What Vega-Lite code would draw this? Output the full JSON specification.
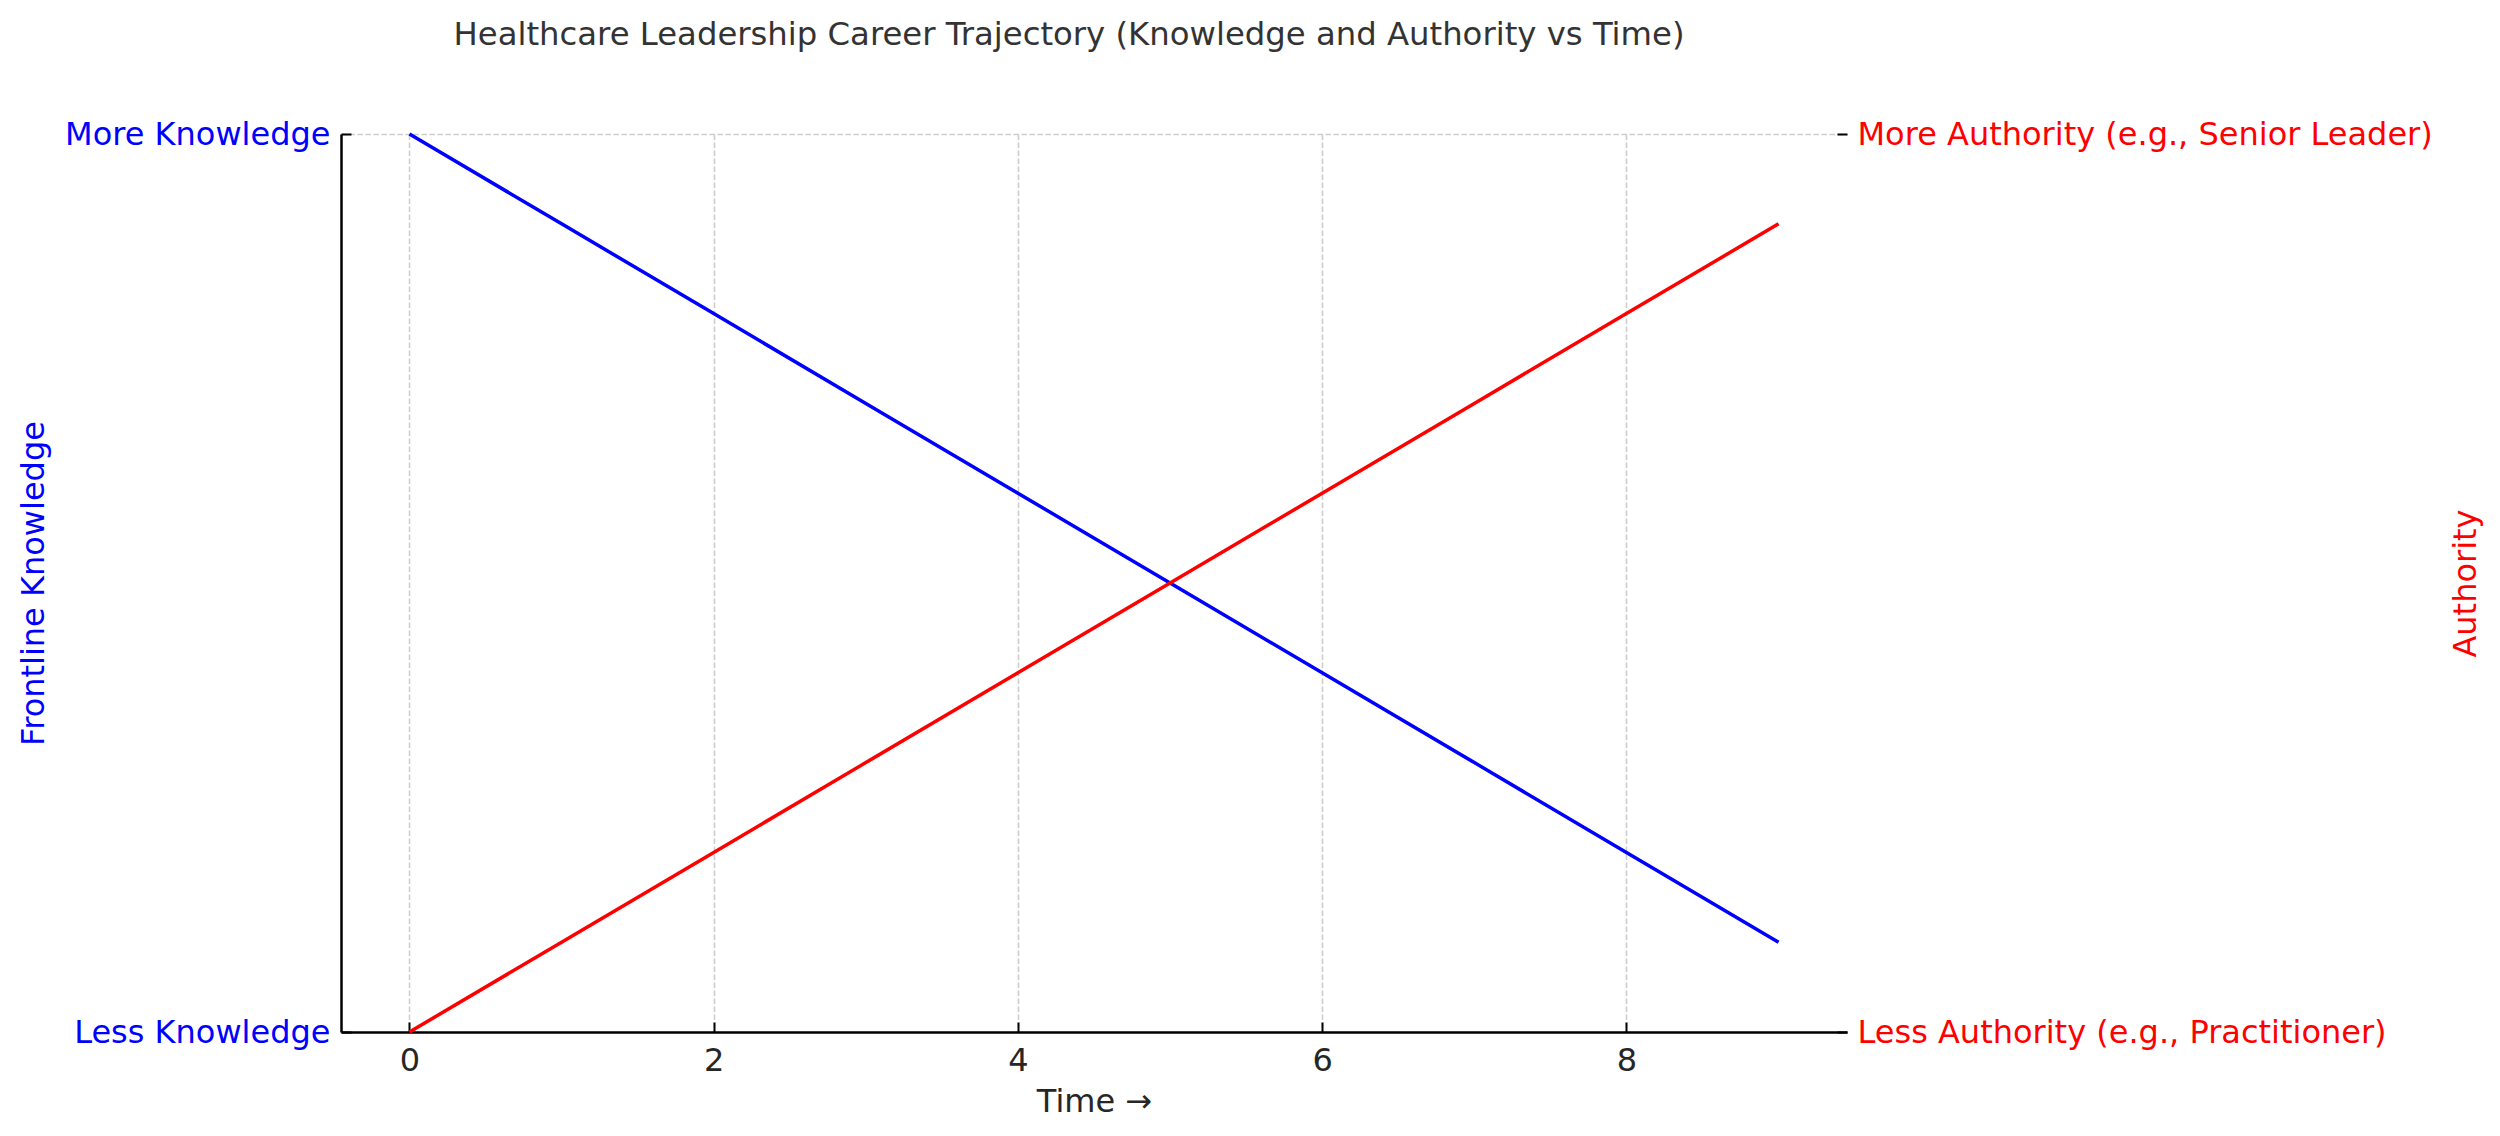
{
  "$schema": "https://vega.github.io/schema/vega-lite/v6.json",
  "autosize": {"type": "none"},
  "width": 1506,
  "height": 898,
  "padding": {"left": 341, "top": 134, "right": 653, "bottom": 104},
  "background": "white",
  "title": {
    "text": "Healthcare Leadership Career Trajectory (Knowledge and Authority vs Time)",
    "anchor": "middle",
    "frame": "group",
    "baseline": "alphabetic",
    "offset": 41,
    "dx": -25,
    "fontSize": 32.3,
    "font": "DejaVu Sans",
    "fontWeight": "normal",
    "color": "#333333"
  },
  "config": {
    "view": {"stroke": null},
    "font": "DejaVu Sans",
    "axis": {
      "labelFont": "DejaVu Sans",
      "titleFont": "DejaVu Sans",
      "labelFontSize": 32,
      "titleFontSize": 32,
      "titleFontWeight": "normal",
      "labelLimit": 0,
      "grid": true,
      "gridColor": "#cccccc",
      "gridWidth": 1.5,
      "gridDash": [5.5, 2.5],
      "tickColor": "#000000",
      "tickWidth": 2,
      "domainColor": "#000000",
      "domainWidth": 2.5
    }
  },
  "data": {
    "values": [
      {"time": 0, "knowledge": 10, "authority": 0},
      {"time": 1, "knowledge": 9, "authority": 1},
      {"time": 2, "knowledge": 8, "authority": 2},
      {"time": 3, "knowledge": 7, "authority": 3},
      {"time": 4, "knowledge": 6, "authority": 4},
      {"time": 5, "knowledge": 5, "authority": 5},
      {"time": 6, "knowledge": 4, "authority": 6},
      {"time": 7, "knowledge": 3, "authority": 7},
      {"time": 8, "knowledge": 2, "authority": 8},
      {"time": 9, "knowledge": 1, "authority": 9}
    ]
  },
  "encoding": {
    "x": {
      "field": "time",
      "type": "quantitative",
      "scale": {"domain": [-0.45, 9.45], "nice": false, "zero": false},
      "axis": {
        "title": "Time →",
        "values": [0, 2, 4, 6, 8],
        "labelColor": "#262626",
        "titleColor": "#262626",
        "tickSize": -10,
        "labelPadding": 23,
        "titlePadding": 10
      }
    }
  },
  "layer": [
    {
      "mark": {"type": "line", "color": "#0000ff", "strokeWidth": 3.5},
      "encoding": {
        "y": {
          "field": "knowledge",
          "type": "quantitative",
          "scale": {"domain": [0, 10], "nice": false},
          "axis": {
            "orient": "left",
            "title": "Frontline Knowledge",
            "titleColor": "#0000ff",
            "labelColor": "#0000ff",
            "values": [0, 10],
            "labelExpr": "datum.value == 0 ? 'Less Knowledge' : 'More Knowledge'",
            "tickSize": -10,
            "labelPadding": 21,
            "titleX": -308,
            "titleY": 449,
            "titleBaseline": "middle",
            "titleAlign": "center",
            "grid": true
          }
        }
      }
    },
    {
      "mark": {"type": "line", "color": "#ff0000", "strokeWidth": 3.5},
      "encoding": {
        "y": {
          "field": "authority",
          "type": "quantitative",
          "scale": {"domain": [0, 10], "nice": false},
          "axis": {
            "orient": "right",
            "title": "Authority",
            "titleColor": "#ff0000",
            "labelColor": "#ff0000",
            "values": [0, 10],
            "labelExpr": "datum.value == 0 ? 'Less Authority (e.g., Practitioner)' : 'More Authority (e.g., Senior Leader)'",
            "tickSize": -10,
            "labelPadding": 20,
            "titleAngle": 270,
            "titleX": 618,
            "titleY": 449,
            "titleBaseline": "middle",
            "titleAlign": "center",
            "domain": false,
            "grid": false
          }
        }
      }
    }
  ],
  "resolve": {"scale": {"y": "independent"}}
}
